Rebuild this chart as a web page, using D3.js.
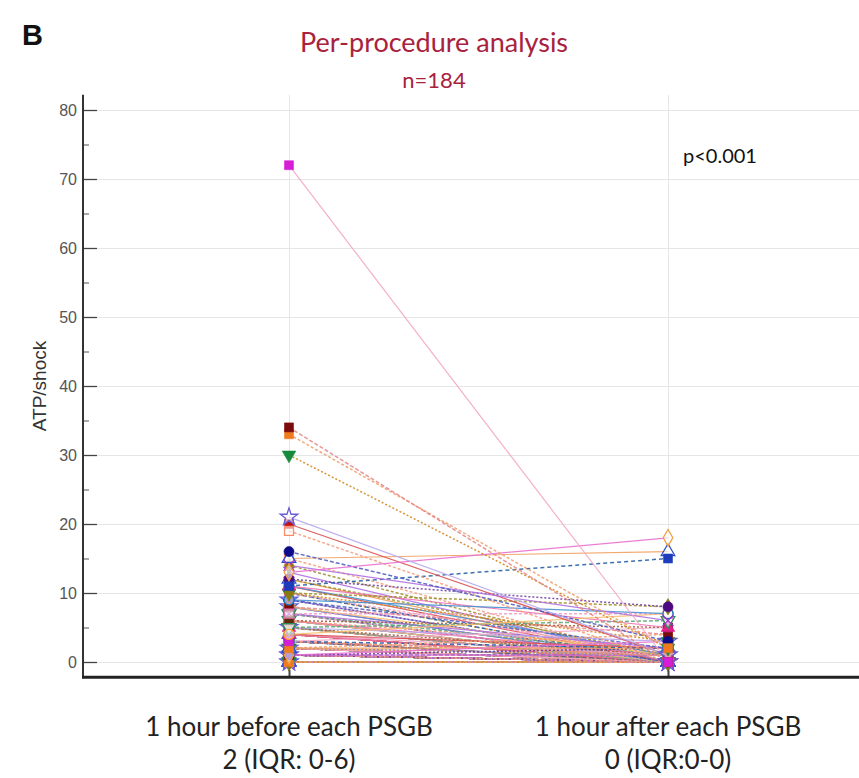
<!DOCTYPE html>
<html>
<head>
<meta charset="utf-8">
<script src="https://cdn.jsdelivr.net/npm/d3@7"></script>
<style>
  html, body { margin: 0; padding: 0; background: #ffffff; }
  svg { display: block; }
</style>
</head>
<body>
<svg id="chart" width="859" height="778"></svg>
<script>
// ---- chart data -------------------------------------------------------
const panelLetter = "B";
const titleText = "Per-procedure analysis";
const subtitleText = "n=184";
const pValueText = "p<0.001";
const yAxisLabel = "ATP/shock";
const categories = ["1 hour before each PSGB", "1 hour after each PSGB"];
const summaries = ["2 (IQR: 0-6)", "0 (IQR:0-0)"];
const yMajorTicks = [0, 10, 20, 30, 40, 50, 60, 70, 80];
const yMinorTicks = [5, 15, 25, 35, 45, 55, 65, 75];

// ATP/shock count per procedure, 1 h before the PSGB
const before = [
  72, 34, 33, 30, 21, 13, 16, 14, 19, 20, 11, 15, 12, 10, 9, 7, 4, 5, 11, 6,
  3, 8, 2, 10, 5, 1, 9, 7, 6, 4, 3, 2, 1, 12, 11, 10, 8, 7, 6, 5,
  4, 3, 3, 2, 2, 1, 1,
  13, 15, 11, 10, 12, 9, 14, 8, 7, 6, 5, 4, 3, 2, 1, 0,
  10, 9, 8, 7, 6, 5, 4, 3, 2, 1, 0,
  9, 8, 7, 6, 5, 4, 3, 2, 1, 0,
  8, 0, 2, 1, 0, 4, 1, 0, 2, 3,
  0, 1, 0, 7, 0, 1, 2, 0, 5, 0,
  1, 3, 0, 0, 2, 1, 0, 4, 0, 1,
  6, 0, 2, 0, 1, 0, 3, 0, 2, 1,
  0, 5, 0, 1, 0, 4, 2, 0, 1, 0,
  3, 0, 6, 1, 0, 2, 0, 0, 1, 5,
  0, 4, 0, 2, 1, 0, 3, 0, 1, 0,
  2, 0, 6, 0, 1, 4, 0, 2, 0, 3,
  1, 0, 5, 0, 2, 0, 1, 0, 4, 0,
  3, 0, 0, 2, 0, 0, 0, 0, 0, 0
];

// ATP/shock count for the same procedures, 1 h after the PSGB
const after = [
  0, 0, 2, 2, 1, 18, 3, 6, 0, 1, 15, 16, 8, 8, 7, 7, 7, 6, 5, 5,
  5, 4, 4, 3, 3, 3, 2, 2, 2, 2, 2, 2, 2, 1, 1, 1, 1, 1, 1, 1,
  1, 1, 1, 1, 1, 1, 1,
  0, 0, 0, 0, 0, 0, 0, 0, 0, 0, 0, 0, 0, 0, 0, 0, 0, 0, 0, 0,
  0, 0, 0, 0, 0, 0, 0, 0, 0, 0, 0, 0, 0, 0, 0, 0, 0, 0, 0, 0,
  0, 0, 0, 0, 0, 0, 0, 0, 0, 0, 0, 0, 0, 0, 0, 0, 0, 0, 0, 0,
  0, 0, 0, 0, 0, 0, 0, 0, 0, 0, 0, 0, 0, 0, 0, 0, 0, 0, 0, 0,
  0, 0, 0, 0, 0, 0, 0, 0, 0, 0, 0, 0, 0, 0, 0, 0, 0, 0, 0, 0,
  0, 0, 0, 0, 0, 0, 0, 0, 0, 0, 0, 0, 0, 0, 0, 0, 0, 0, 0, 0,
  0, 0, 0, 0, 0, 0, 0, 0, 0, 0, 0, 0, 0, 0, 0, 0, 0
];

// ---- series styling (cycled per procedure) -----------------------------
const seriesStyles = [
  { color: "#d61ed6", line: "#f2a6c8", shape: "square",   filled: true,  dash: null },
  { color: "#7a0c0c", line: "#e58a8a", shape: "square",   filled: true,  dash: "4,2" },
  { color: "#f07a1e", line: "#f0a070", shape: "square",   filled: true,  dash: "3,2" },
  { color: "#178a3c", line: "#d08a20", shape: "triDown",  filled: true,  dash: "2,2" },
  { color: "#6a5cd6", line: "#b8a8f0", shape: "star",     filled: false, dash: null },
  { color: "#f0a040", line: "#e870d0", shape: "diamond",  filled: false, dash: null },
  { color: "#0c0c8a", line: "#5060c0", shape: "circle",   filled: true,  dash: "4,2" },
  { color: "#9a34cc", line: "#b070e0", shape: "times",    filled: false, dash: null },
  { color: "#ff8c69", line: "#f4a080", shape: "square",   filled: false, dash: "3,2" },
  { color: "#c01010", line: "#d85050", shape: "square",   filled: true,  dash: null },
  { color: "#1c3cbc", line: "#2a60a8", shape: "square",   filled: true,  dash: "4,3" },
  { color: "#2a50d0", line: "#f0a060", shape: "triangle", filled: false, dash: null },
  { color: "#4b0a82", line: "#7040a0", shape: "circle",   filled: true,  dash: "2,2" },
  { color: "#8a7a10", line: "#a09030", shape: "diamond",  filled: true,  dash: "3,2" },
  { color: "#1478c0", line: "#4890d0", shape: "circle",   filled: false, dash: null },
  { color: "#e070b0", line: "#f0a0c8", shape: "square",   filled: false, dash: "3,2" },
  { color: "#ffa020", line: "#f8c070", shape: "circle",   filled: false, dash: null },
  { color: "#2e8b57", line: "#60a880", shape: "triDown",  filled: false, dash: "4,2" },
  { color: "#e01e8c", line: "#f070b0", shape: "triangle", filled: true,  dash: null },
  { color: "#5a2a0a", line: "#a06040", shape: "square",   filled: true,  dash: "2,2" }
];

const shapeTypes = {
  square: d3.symbolSquare, circle: d3.symbolCircle, diamond: d3.symbolDiamond,
  triangle: d3.symbolTriangle, triDown: d3.symbolTriangle, star: d3.symbolStar,
  times: d3.symbolTimes
};

// ---- layout ------------------------------------------------------------
const svg = d3.select("#chart");
const W = 859, H = 778;
const x = d3.scalePoint().domain(d3.range(categories.length)).range([289, 668]);
const y = d3.scaleLinear().domain([0, 80]).range([662, 110]);
const plotLeft = 83, plotRight = W;
const plotTop = y(82.2), plotBottom = y(-2.2);

svg.append("rect").attr("width", W).attr("height", H).attr("fill", "#ffffff");

// grid
const grid = svg.append("g").attr("stroke", "#e6e6e6").attr("stroke-width", 1);
grid.selectAll("line.h").data(yMajorTicks).join("line")
  .attr("x1", plotLeft).attr("x2", plotRight)
  .attr("y1", d => y(d) + 0.5).attr("y2", d => y(d) + 0.5);
grid.selectAll("line.v").data(categories.map((_, i) => i)).join("line")
  .attr("x1", d => x(d) + 0.5).attr("x2", d => x(d) + 0.5)
  .attr("y1", plotTop).attr("y2", plotBottom);

// paired lines, one per procedure
const pairs = before.map((b, i) => ({ i, b, a: after[i], s: seriesStyles[i % seriesStyles.length] }));
const drawOrder = pairs.slice().reverse();

svg.append("g").selectAll("line").data(drawOrder).join("line")
  .attr("x1", x(0)).attr("x2", x(1))
  .attr("y1", d => y(d.b)).attr("y2", d => y(d.a))
  .attr("stroke", d => d.s.line)
  .attr("stroke-width", d => d.s.dash ? 1.5 : 1.2)
  .attr("stroke-dasharray", d => d.s.dash)
  .attr("stroke-opacity", 0.9);

// markers at both time points
function drawMarkers(key, col) {
  svg.append("g").selectAll("path").data(drawOrder).join("path")
    .attr("transform", d => `translate(${x(col)},${y(d[key])})` + (d.s.shape === "triDown" ? " rotate(180)" : ""))
    .attr("d", d => d3.symbol().type(shapeTypes[d.s.shape]).size(d.s.shape === "star" ? 95 : 80)())
    .attr("fill", d => d.s.filled ? d.s.color : "#ffffff")
    .attr("fill-opacity", d => d.s.filled ? 1 : 0.6)
    .attr("stroke", d => d.s.color)
    .attr("stroke-width", d => d.s.filled ? 0.6 : 1.3);
}
drawMarkers("b", 0);
drawMarkers("a", 1);

// y axis
const yAxis = svg.append("g").attr("transform", `translate(${plotLeft},0)`)
  .call(d3.axisLeft(y).tickValues(yMajorTicks).tickSizeInner(-14).tickSizeOuter(0).tickPadding(6));
yAxis.select(".domain").remove();
yAxis.selectAll(".tick line").attr("stroke", "#444").attr("stroke-width", 1.3);
yAxis.selectAll(".tick text")
  .attr("font-family", "'Liberation Sans', Arial, sans-serif")
  .attr("font-size", 16).attr("fill", "#555");
const yMinor = svg.append("g").attr("transform", `translate(${plotLeft},0)`)
  .call(d3.axisLeft(y).tickValues(yMinorTicks).tickSizeInner(-6).tickSizeOuter(0).tickFormat(""));
yMinor.select(".domain").remove();
yMinor.selectAll(".tick line").attr("stroke", "#555").attr("stroke-width", 1);
svg.append("line")
  .attr("x1", plotLeft).attr("x2", plotLeft)
  .attr("y1", plotTop).attr("y2", plotBottom + 1)
  .attr("stroke", "#333").attr("stroke-width", 2);

// x axis
const xAxis = svg.append("g").attr("transform", `translate(0,${plotBottom})`)
  .call(d3.axisBottom(x).tickSizeInner(-7).tickSizeOuter(0).tickFormat(""));
xAxis.select(".domain").remove();
xAxis.selectAll(".tick line").attr("stroke", "#444").attr("stroke-width", 2);
svg.append("line")
  .attr("x1", plotLeft - 1).attr("x2", plotRight)
  .attr("y1", plotBottom).attr("y2", plotBottom)
  .attr("stroke", "#222").attr("stroke-width", 3);

// category labels and summaries
const calibriLike = "Lato, 'Open Sans', sans-serif";
svg.append("g").selectAll("text").data(categories).join("text")
  .attr("x", (d, i) => x(i)).attr("y", 736)
  .attr("text-anchor", "middle")
  .attr("font-family", calibriLike).attr("font-size", 26).attr("fill", "#222")
  .text(d => d);
svg.append("g").selectAll("text").data(summaries).join("text")
  .attr("x", (d, i) => x(i)).attr("y", 769)
  .attr("text-anchor", "middle")
  .attr("font-family", calibriLike).attr("font-size", 26).attr("fill", "#222")
  .text(d => d);

// y axis title
svg.append("text")
  .attr("transform", `translate(46,${y(40)}) rotate(-90)`)
  .attr("text-anchor", "middle")
  .attr("font-family", "'Liberation Sans', Arial, sans-serif")
  .attr("font-size", 19).attr("fill", "#333")
  .text(yAxisLabel);

// titles
svg.append("text").attr("x", 22).attr("y", 45)
  .attr("font-family", "'Liberation Sans', Arial, sans-serif")
  .attr("font-weight", "bold").attr("font-size", 29).attr("fill", "#111")
  .text(panelLetter);
svg.append("text").attr("x", 434).attr("y", 52).attr("text-anchor", "middle")
  .attr("font-family", calibriLike).attr("font-size", 27).attr("fill", "#a8223e")
  .text(titleText);
svg.append("text").attr("x", 434).attr("y", 88).attr("text-anchor", "middle")
  .attr("font-family", calibriLike).attr("font-size", 22).attr("fill", "#a8223e")
  .text(subtitleText);

// significance note
svg.append("text").attr("x", 683).attr("y", 163)
  .attr("font-family", calibriLike).attr("font-size", 20).attr("fill", "#111")
  .text(pValueText);
</script>
</body>
</html>
